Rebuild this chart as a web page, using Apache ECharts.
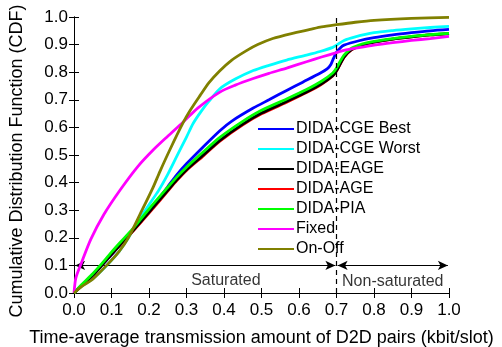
<!DOCTYPE html>
<html>
<head>
<meta charset="utf-8">
<script src="https://cdn.jsdelivr.net/npm/echarts@6/dist/echarts.min.js"></script>
<style>html,body{margin:0;padding:0;background:#fff;}#c{width:502px;height:347px;}</style>
</head>
<body>
<div id="c"></div>
<script>
const seriesNames = ['DIDA-CGE Best','DIDA-CGE Worst','DIDA-EAGE','DIDA-AGE','DIDA-PIA','Fixed','On-Off'];
const seriesColors = ['#0000ff','#00ffff','#000000','#ff0000','#00ff00','#ff00ff','#808000'];
const seriesZ = [4,3,6,5,7,8,9];
const xTicks = [0,0.1,0.2,0.3,0.4,0.5,0.6,0.7,0.8,0.9,1.0];
const yTicks = [0,0.1,0.2,0.3,0.4,0.5,0.6,0.7,0.8,0.9,1.0];

const cgeBest = [[0,0],[0.02,0.027],[0.05,0.066],[0.074,0.1],[0.1,0.138],[0.123,0.175],[0.16,0.232],[0.211,0.315],[0.25,0.385],[0.274,0.428],[0.3,0.468],[0.345,0.53],[0.389,0.588],[0.42,0.622],[0.478,0.67],[0.52,0.7],[0.567,0.734],[0.61,0.764],[0.656,0.796],[0.675,0.812],[0.685,0.828],[0.692,0.85],[0.7,0.872],[0.71,0.888],[0.72,0.898],[0.76,0.914],[0.8,0.925],[0.85,0.935],[0.9,0.943],[0.95,0.95],[1.0,0.955]];
const cgeWorst = [[0,0],[0.02,0.025],[0.05,0.052],[0.087,0.1],[0.12,0.15],[0.145,0.2],[0.176,0.27],[0.2,0.32],[0.225,0.37],[0.25,0.43],[0.274,0.495],[0.3,0.565],[0.318,0.615],[0.34,0.66],[0.36,0.695],[0.389,0.74],[0.43,0.775],[0.478,0.806],[0.52,0.825],[0.567,0.844],[0.62,0.862],[0.656,0.875],[0.69,0.89],[0.7,0.898],[0.72,0.915],[0.75,0.928],[0.8,0.943],[0.85,0.951],[0.9,0.957],[0.95,0.962],[1.0,0.966]];
const eage = [[0,0],[0.02,0.025],[0.05,0.064],[0.074,0.1],[0.1,0.14],[0.123,0.175],[0.16,0.23],[0.211,0.31],[0.25,0.372],[0.274,0.41],[0.3,0.447],[0.345,0.5],[0.389,0.553],[0.45,0.612],[0.5,0.652],[0.567,0.694],[0.62,0.728],[0.66,0.758],[0.69,0.787],[0.7,0.805],[0.71,0.83],[0.72,0.855],[0.74,0.882],[0.77,0.899],[0.8,0.909],[0.85,0.92],[0.9,0.928],[0.95,0.935],[1.0,0.94]];
const age = [[0,0],[0.02,0.025],[0.05,0.064],[0.074,0.1],[0.1,0.14],[0.123,0.174],[0.16,0.228],[0.211,0.307],[0.25,0.369],[0.274,0.407],[0.3,0.444],[0.345,0.497],[0.389,0.55],[0.45,0.609],[0.5,0.649],[0.567,0.691],[0.62,0.726],[0.66,0.756],[0.69,0.786],[0.7,0.804],[0.71,0.829],[0.72,0.854],[0.74,0.881],[0.77,0.899],[0.8,0.909],[0.85,0.92],[0.9,0.928],[0.95,0.935],[1.0,0.94]];
const pia = [[0,0],[0.02,0.03],[0.05,0.07],[0.07,0.1],[0.1,0.148],[0.123,0.183],[0.16,0.238],[0.211,0.322],[0.25,0.383],[0.274,0.42],[0.3,0.456],[0.345,0.512],[0.389,0.564],[0.45,0.622],[0.5,0.662],[0.567,0.703],[0.62,0.737],[0.66,0.767],[0.69,0.797],[0.7,0.815],[0.71,0.84],[0.72,0.862],[0.74,0.887],[0.77,0.903],[0.8,0.912],[0.85,0.922],[0.9,0.93],[0.95,0.936],[1.0,0.941]];
const fixed = [[0,0],[0.005,0.055],[0.02,0.11],[0.045,0.195],[0.08,0.285],[0.123,0.373],[0.17,0.458],[0.211,0.518],[0.25,0.568],[0.29,0.618],[0.33,0.67],[0.389,0.728],[0.43,0.753],[0.478,0.777],[0.52,0.796],[0.567,0.815],[0.62,0.838],[0.66,0.855],[0.7,0.871],[0.72,0.879],[0.76,0.889],[0.8,0.898],[0.85,0.907],[0.9,0.915],[0.95,0.922],[1.0,0.93]];
const onOff = [[0,0],[0.02,0.023],[0.05,0.05],[0.087,0.1],[0.12,0.15],[0.145,0.2],[0.176,0.285],[0.21,0.38],[0.229,0.44],[0.256,0.52],[0.291,0.617],[0.31,0.662],[0.336,0.715],[0.36,0.762],[0.389,0.805],[0.42,0.843],[0.46,0.878],[0.49,0.9],[0.53,0.922],[0.58,0.94],[0.63,0.955],[0.66,0.964],[0.7,0.972],[0.75,0.981],[0.8,0.988],[0.9,0.995],[1.0,0.999]];
const allData = [cgeBest, cgeWorst, eage, age, pia, fixed, onOff];

const boundaryX = 0.7;
const arrowY = 0.1;
const regionLabels = [{name:'Saturated', x:0.405, y:0.045},{name:'Non-saturated', x:0.85, y:0.04}];

const FONT = 'Liberation Sans, Arial, sans-serif';
const chart = echarts.init(document.getElementById('c'));

const series = allData.map((d,i)=>({
  name: seriesNames[i], type:'line', data:d, showSymbol:false, symbol:'none',
  smooth:0.25, lineStyle:{color:seriesColors[i], width:2.8}, itemStyle:{color:seriesColors[i]},
  z: seriesZ[i], silent:true, animation:false
}));

series.push({
  type:'line', data:[[boundaryX,0],[boundaryX,1]], symbol:'none',
  lineStyle:{color:'#000',width:1.2,type:[5,4]}, z:20, silent:true, animation:false
});
series.push({
  type:'line', data:[], symbol:'none', animation:false, silent:true,
  markLine:{
    silent:true, animation:false, symbol:['arrow','arrow'], symbolSize:[7,10],
    lineStyle:{color:'#000',width:1.2,type:'solid'}, label:{show:false},
    data:[
      [{coord:[0.003,arrowY]},{coord:[boundaryX-0.003,arrowY]}],
      [{coord:[boundaryX+0.003,arrowY]},{coord:[0.997,arrowY]}]
    ]
  }, z:20
});
series.push({
  type:'scatter', symbolSize:0, silent:true, animation:false,
  data: regionLabels.map(r=>({value:[r.x,r.y], name:r.name})),
  label:{show:true, position:'inside', formatter:p=>p.name, color:'#000', fontSize:16, fontFamily:FONT},
  z:21
});

const axisCommon = {
  type:'value', min:0, max:1, interval:0.1,
  axisLine:{show:true, lineStyle:{color:'#000', width:1}},
  axisTick:{show:true, inside:true, length:5, lineStyle:{color:'#000'}},
  splitLine:{show:false}
};

chart.setOption({
  backgroundColor:'#fff',
  animation:false,
  grid:{left:74, right:53, top:17, bottom:54, containLabel:false, outerBoundsMode:'none'},
  legend:{
    data:seriesNames, orient:'vertical', left:253, top:116,
    itemWidth:36, itemHeight:14, itemGap:4,
    textStyle:{fontSize:16, fontFamily:FONT, color:'#000', lineHeight:16, padding:[0,0,0,-3]},
    icon:'path://M0,6 L36,6 L36,8 L0,8 Z', selectedMode:false
  },
  xAxis:[
    Object.assign({}, axisCommon, {
      position:'bottom',
      name:'Time-average transmission amount of D2D pairs (kbit/slot)',
      nameLocation:'middle', nameGap:36,
      nameTextStyle:{fontSize:18, fontFamily:FONT, color:'#000'},
      axisLabel:{show:true, margin:9, fontSize:17, fontFamily:FONT, color:'#000', formatter:v=>v.toFixed(1)}
    }),
    Object.assign({}, axisCommon, {position:'top', axisLabel:{show:false}})
  ],
  yAxis:[
    Object.assign({}, axisCommon, {
      position:'left',
      name:'Cumulative Distribution Function (CDF)',
      nameLocation:'middle', nameGap:48,
      nameTextStyle:{fontSize:18, fontFamily:FONT, color:'#000', padding:[0,12,0,0]},
      axisLabel:{show:true, margin:6, fontSize:17, fontFamily:FONT, color:'#000', formatter:v=>v.toFixed(1)}
    }),
    Object.assign({}, axisCommon, {position:'right', axisLabel:{show:false}})
  ],
  series: series
});
</script>
</body>
</html>
